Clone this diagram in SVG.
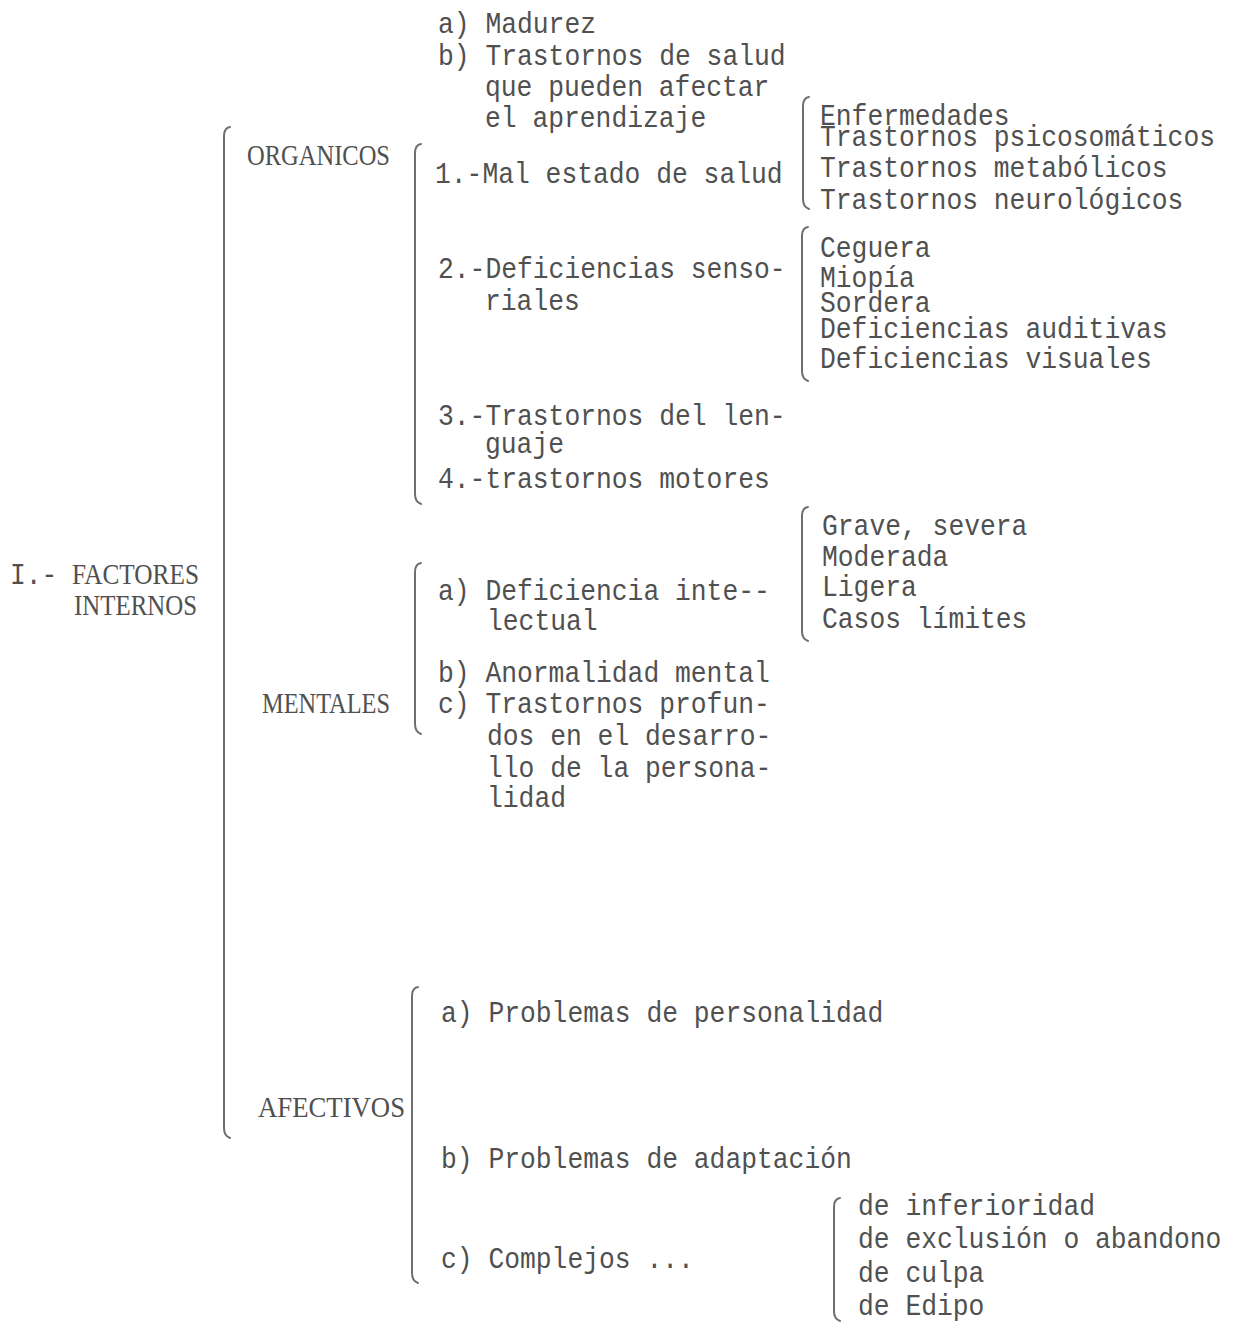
<svg xmlns="http://www.w3.org/2000/svg" width="1234" height="1323" viewBox="0 0 1234 1323">
<style>
.t{font-family:"Liberation Mono","DejaVu Sans Mono",monospace;font-size:29px;fill:#505050}
.c{font-family:"Liberation Serif","DejaVu Serif",serif;font-size:29px;fill:#505050}
.br{fill:none;stroke:#6e6e6e;stroke-width:2;stroke-linecap:round}
</style>
<rect width="1234" height="1323" fill="#ffffff"/>
<g id="connectors">
<path class="br" d="M230 127 Q224 128 224 136 L224 1128 Q224 1136 230 1138"/>
<path class="br" d="M421 144 Q415 145 415 153 L415 494 Q415 502 421 504"/>
<path class="br" d="M809 97 Q803 98 803 106 L803 199 Q803 207 809 209"/>
<path class="br" d="M808 227 Q802 228 802 236 L802 371 Q802 379 808 381"/>
<path class="br" d="M421 563 Q415 564 415 572 L415 724 Q415 732 421 734"/>
<path class="br" d="M808 507 Q802 508 802 516 L802 631 Q802 639 808 641"/>
<path class="br" d="M418 987 Q412 988 412 996 L412 1273 Q412 1281 418 1283"/>
<path class="br" d="M840 1198 Q834 1199 834 1207 L834 1311 Q834 1319 840 1321"/>
</g>
<g id="factores-internos">
<text class="t" x="10" y="584" textLength="47.4" lengthAdjust="spacingAndGlyphs">I.-</text>
<text class="c" x="72" y="584" textLength="127" lengthAdjust="spacingAndGlyphs">FACTORES</text>
<text class="c" x="74" y="615" textLength="123" lengthAdjust="spacingAndGlyphs">INTERNOS</text>
</g>
<g id="organicos">
<text class="c" x="247" y="165" textLength="143" lengthAdjust="spacingAndGlyphs">ORGANICOS</text>
</g>
<g id="madurez">
<text class="t" x="438" y="33" textLength="158" lengthAdjust="spacingAndGlyphs">a) Madurez</text>
</g>
<g id="trastornos-salud">
<text class="t" x="438" y="65" textLength="347.6" lengthAdjust="spacingAndGlyphs">b) Trastornos de salud</text>
<text class="t" x="485" y="96" textLength="284.4" lengthAdjust="spacingAndGlyphs">que pueden afectar</text>
<text class="t" x="485" y="127" textLength="221.2" lengthAdjust="spacingAndGlyphs">el aprendizaje</text>
</g>
<g id="mal-estado">
<text class="t" x="435" y="183" textLength="347.6" lengthAdjust="spacingAndGlyphs">1.-Mal estado de salud</text>
</g>
<g id="salud-list">
<text class="t" x="820" y="125" textLength="189.6" lengthAdjust="spacingAndGlyphs">Enfermedades</text>
<text class="t" x="820" y="146" textLength="395" lengthAdjust="spacingAndGlyphs">Trastornos psicosomáticos</text>
<text class="t" x="820" y="177" textLength="347.6" lengthAdjust="spacingAndGlyphs">Trastornos metabólicos</text>
<text class="t" x="820" y="209" textLength="363.4" lengthAdjust="spacingAndGlyphs">Trastornos neurológicos</text>
</g>
<g id="sensoriales">
<text class="t" x="438" y="278" textLength="347.6" lengthAdjust="spacingAndGlyphs">2.-Deficiencias senso-</text>
<text class="t" x="485" y="310" textLength="94.8" lengthAdjust="spacingAndGlyphs">riales</text>
</g>
<g id="sensoriales-list">
<text class="t" x="820" y="257" textLength="110.6" lengthAdjust="spacingAndGlyphs">Ceguera</text>
<text class="t" x="820" y="287" textLength="94.8" lengthAdjust="spacingAndGlyphs">Miopía</text>
<text class="t" x="820" y="312" textLength="110.6" lengthAdjust="spacingAndGlyphs">Sordera</text>
<text class="t" x="820" y="338" textLength="347.6" lengthAdjust="spacingAndGlyphs">Deficiencias auditivas</text>
<text class="t" x="820" y="368" textLength="331.8" lengthAdjust="spacingAndGlyphs">Deficiencias visuales</text>
</g>
<g id="lenguaje">
<text class="t" x="438" y="425" textLength="347.6" lengthAdjust="spacingAndGlyphs">3.-Trastornos del len-</text>
<text class="t" x="485" y="453" textLength="79" lengthAdjust="spacingAndGlyphs">guaje</text>
</g>
<g id="motores">
<text class="t" x="438" y="488" textLength="331.8" lengthAdjust="spacingAndGlyphs">4.-trastornos motores</text>
</g>
<g id="mentales">
<text class="c" x="262" y="713" textLength="128" lengthAdjust="spacingAndGlyphs">MENTALES</text>
</g>
<g id="deficiencia-intelectual">
<text class="t" x="438" y="600" textLength="331.8" lengthAdjust="spacingAndGlyphs">a) Deficiencia inte--</text>
<text class="t" x="487" y="630" textLength="110.6" lengthAdjust="spacingAndGlyphs">lectual</text>
</g>
<g id="grados-list">
<text class="t" x="822" y="535" textLength="205.4" lengthAdjust="spacingAndGlyphs">Grave, severa</text>
<text class="t" x="822" y="566" textLength="126.4" lengthAdjust="spacingAndGlyphs">Moderada</text>
<text class="t" x="822" y="596" textLength="94.8" lengthAdjust="spacingAndGlyphs">Ligera</text>
<text class="t" x="822" y="628" textLength="205.4" lengthAdjust="spacingAndGlyphs">Casos límites</text>
</g>
<g id="anormalidad">
<text class="t" x="438" y="682" textLength="331.8" lengthAdjust="spacingAndGlyphs">b) Anormalidad mental</text>
</g>
<g id="trastornos-profundos">
<text class="t" x="438" y="713" textLength="331.8" lengthAdjust="spacingAndGlyphs">c) Trastornos profun-</text>
<text class="t" x="487" y="745" textLength="284.4" lengthAdjust="spacingAndGlyphs">dos en el desarro-</text>
<text class="t" x="487" y="777" textLength="284.4" lengthAdjust="spacingAndGlyphs">llo de la persona-</text>
<text class="t" x="487" y="807" textLength="79" lengthAdjust="spacingAndGlyphs">lidad</text>
</g>
<g id="afectivos">
<text class="c" x="258" y="1117" textLength="147" lengthAdjust="spacingAndGlyphs">AFECTIVOS</text>
</g>
<g id="personalidad">
<text class="t" x="441" y="1022" textLength="442.4" lengthAdjust="spacingAndGlyphs">a) Problemas de personalidad</text>
</g>
<g id="adaptacion">
<text class="t" x="441" y="1168" textLength="410.8" lengthAdjust="spacingAndGlyphs">b) Problemas de adaptación</text>
</g>
<g id="complejos">
<text class="t" x="441" y="1268" textLength="252.8" lengthAdjust="spacingAndGlyphs">c) Complejos ...</text>
</g>
<g id="complejos-list">
<text class="t" x="858" y="1215" textLength="237" lengthAdjust="spacingAndGlyphs">de inferioridad</text>
<text class="t" x="858" y="1248" textLength="363.4" lengthAdjust="spacingAndGlyphs">de exclusión o abandono</text>
<text class="t" x="858" y="1282" textLength="126.4" lengthAdjust="spacingAndGlyphs">de culpa</text>
<text class="t" x="858" y="1315" textLength="126.4" lengthAdjust="spacingAndGlyphs">de Edipo</text>
</g>
</svg>
